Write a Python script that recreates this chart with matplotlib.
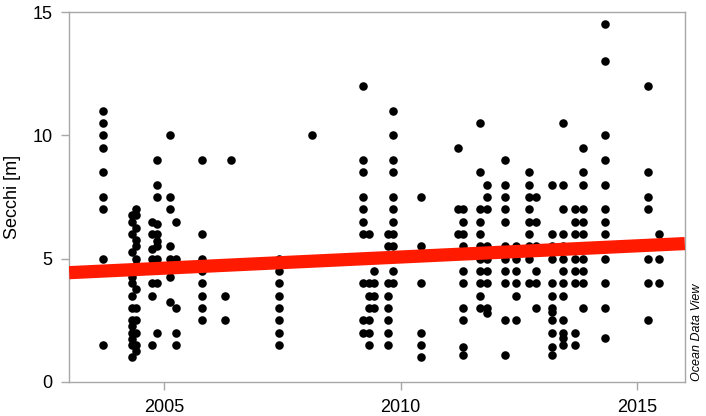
import matplotlib
matplotlib.use("Agg")
import matplotlib.pyplot as plt
import numpy as np

plt.rcParams['font.family'] = ['Liberation Sans', 'DejaVu Sans']

# sampling dates (decimal year) of each vertical group of casts
col_years = [2003.71, 2004.32, 2004.42, 2004.74, 2004.86, 2005.12, 2005.25,
             2005.80, 2006.28, 2006.42, 2007.43, 2008.13, 2009.21, 2009.34,
             2009.44, 2009.74, 2009.83, 2010.43, 2011.21, 2011.32, 2011.67,
             2011.82, 2012.20, 2012.44, 2012.70, 2012.85, 2013.20, 2013.43,
             2013.68, 2013.85, 2014.31, 2015.22, 2015.45]

# Secchi depths [m] observed in each group
col_secchi = [
    [11, 10.5, 10, 9.5, 8.5, 7.5, 7, 5, 1.5],
    [6.75, 6.5, 6.0, 5.25, 4.25, 4.0, 3.5, 3.0, 2.5, 2.25, 2.0, 1.75, 1.5, 1.0],
    [7.0, 6.75, 6.25, 5.75, 5.5, 5.0, 4.75, 4.5, 3.75, 3.0, 2.5, 2.0, 1.5, 1.25],
    [6.5, 6.0, 5.4, 5.0, 4.0, 3.5, 1.5],
    [9.0, 8.0, 7.5, 6.4, 6.0, 5.7, 5.5, 5.0, 4.0, 2.0],
    [10.0, 7.5, 7.0, 5.5, 5.0, 4.25, 3.25],
    [6.5, 5.0, 3.0, 2.0, 1.5],
    [9.0, 6.0, 5.0, 4.5, 4.0, 3.5, 3.0, 2.5],
    [3.5, 2.5],
    [9.0],
    [5.0, 4.5, 4.0, 3.5, 3.0, 2.5, 2.0, 1.5],
    [10.0],
    [12.0, 9.0, 8.5, 7.5, 7.0, 6.5, 6.0, 4.0, 2.5, 2.0],
    [6.0, 4.0, 3.5, 3.0, 2.5, 2.0, 1.5],
    [4.5, 4.0, 3.5, 3.0],
    [6.0, 5.5, 4.0, 3.5, 3.0, 2.5, 2.0, 1.5],
    [11.0, 10.0, 9.0, 8.5, 7.5, 7.0, 6.5, 6.0, 5.5, 4.5, 4.0],
    [7.5, 5.5, 4.0, 2.0, 1.5, 1.0],
    [9.5, 7.0, 6.0],
    [7.0, 6.5, 6.0, 5.5, 4.5, 4.0, 3.0, 2.5, 1.4, 1.1],
    [10.5, 8.5, 7.0, 6.5, 6.0, 5.5, 5.0, 4.5, 4.0, 3.5, 3.0],
    [8.0, 7.5, 7.0, 5.5, 5.0, 4.5, 4.0, 3.0, 2.8],
    [9.0, 8.0, 7.5, 7.0, 6.5, 5.5, 5.0, 4.5, 4.0, 2.5, 1.1],
    [5.5, 5.0, 4.5, 4.0, 3.5, 2.5],
    [8.5, 8.0, 7.5, 7.0, 6.5, 6.0, 5.5, 5.0, 4.0],
    [7.5, 6.5, 5.5, 4.5, 4.0, 3.0],
    [8.0, 6.0, 5.5, 5.0, 4.0, 3.5, 3.0, 2.85, 2.5, 2.0, 1.4, 1.1],
    [10.5, 8.0, 7.0, 6.0, 5.5, 5.0, 4.5, 4.0, 3.5, 2.5, 2.0, 1.8, 1.5],
    [7.0, 6.5, 6.0, 5.0, 4.5, 4.0, 2.0, 1.5],
    [9.5, 8.5, 8.0, 7.0, 6.5, 6.0, 5.0, 4.5, 4.0, 3.0],
    [14.5, 13.0, 10.0, 9.0, 8.0, 7.0, 6.5, 6.0, 5.0, 4.0, 3.0, 1.8],
    [12.0, 8.5, 7.5, 7.0, 5.0, 4.0, 2.5],
    [6.0, 5.0, 4.0],
]

# linear trend as drawn (endpoints)
trend_years = [2003, 2016]
trend_secchi = [4.43, 5.61]

years = np.concatenate([[y] * len(v) for y, v in zip(col_years, col_secchi)])
secchi = np.concatenate(col_secchi)

fig = plt.figure(figsize=(7.06, 4.16), dpi=100)
ax = fig.add_axes([0.098, 0.082, 0.872, 0.889])

ax.scatter(years, secchi, s=38, color='black', linewidths=0, zorder=2)
ax.plot(trend_years, trend_secchi, color='#ff1a00', lw=9.5,
        solid_capstyle='butt', zorder=3)

ax.set_xlim(2003, 2016)
ax.set_ylim(0, 15)
ax.set_xticks([2005, 2010, 2015])
ax.set_yticks([0, 5, 10, 15])
for s in ax.spines.values():
    s.set_color('#a8a8a8')
    s.set_linewidth(1)
ax.tick_params(colors='#a8a8a8', labelcolor='black', labelsize=13,
               length=6, width=1)
ax.tick_params(axis='x', pad=6)
ax.tick_params(axis='y', pad=6)
ax.set_ylabel('Secchi [m]', fontsize=13, labelpad=8)

fig.text(0.996, 0.085, 'Ocean Data View', rotation=90, fontsize=9,
         style='italic', ha='right', va='bottom')

fig.savefig('out.png', dpi=100)
